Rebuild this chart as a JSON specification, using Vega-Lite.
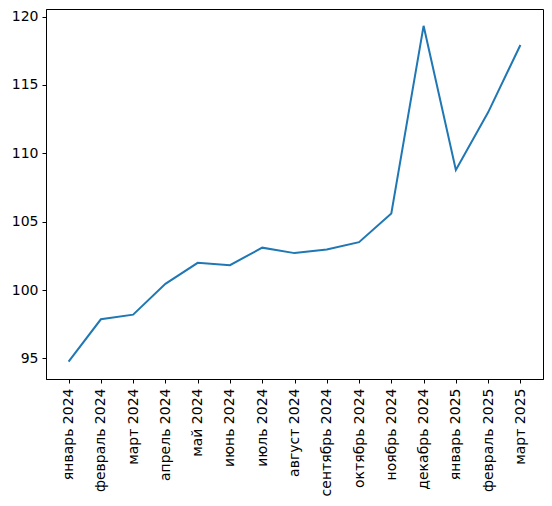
{
  "$schema": "https://vega.github.io/schema/vega-lite/v6.json",
  "background": "white",
  "autosize": "none",
  "width": 497,
  "height": 370,
  "padding": {"left": 46, "top": 9, "right": 9, "bottom": 127},
  "view": {"stroke": "black", "strokeWidth": 1},
  "data": {
    "values": [
      {"month": "январь 2024", "value": 94.76},
      {"month": "февраль 2024", "value": 97.86},
      {"month": "март 2024", "value": 98.2},
      {"month": "апрель 2024", "value": 100.45},
      {"month": "май 2024", "value": 101.99},
      {"month": "июнь 2024", "value": 101.82},
      {"month": "июль 2024", "value": 103.1},
      {"month": "август 2024", "value": 102.7},
      {"month": "сентябрь 2024", "value": 102.96},
      {"month": "октябрь 2024", "value": 103.5},
      {"month": "ноябрь 2024", "value": 105.6},
      {"month": "декабрь 2024", "value": 119.33},
      {"month": "январь 2025", "value": 108.78},
      {"month": "февраль 2025", "value": 113.0},
      {"month": "март 2025", "value": 117.93}
    ]
  },
  "mark": {"type": "line", "color": "#1f77b4", "strokeWidth": 2},
  "encoding": {
    "x": {
      "field": "month",
      "type": "nominal",
      "sort": null,
      "scale": {"type": "point", "padding": 0.7},
      "axis": {
        "title": null,
        "labelAngle": -90,
        "labelFont": "DejaVu Sans",
        "labelFontSize": 14,
        "labelColor": "black",
        "labelPadding": 5,
        "tickSize": 4,
        "tickColor": "black",
        "domainColor": "black",
        "grid": false
      }
    },
    "y": {
      "field": "value",
      "type": "quantitative",
      "scale": {"domain": [93.49, 120.56], "nice": false, "zero": false},
      "axis": {
        "title": null,
        "values": [95, 100, 105, 110, 115, 120],
        "labelFont": "DejaVu Sans",
        "labelFontSize": 14,
        "labelColor": "black",
        "labelPadding": 4,
        "tickSize": 4,
        "tickColor": "black",
        "domainColor": "black",
        "grid": false
      }
    }
  }
}
